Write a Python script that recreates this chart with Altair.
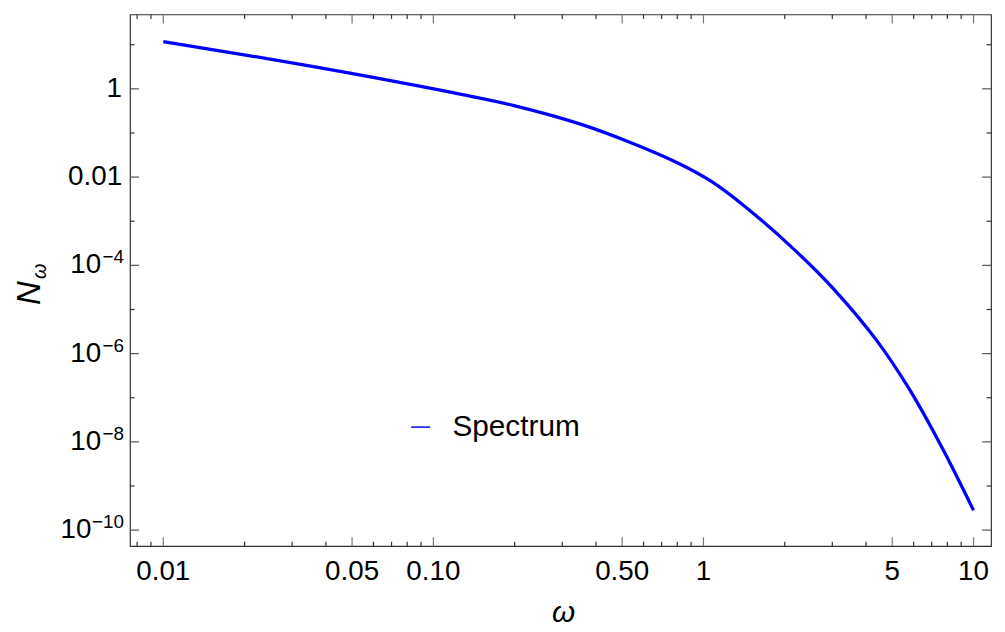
import altair as alt
import pandas as pd

# ---- data ----
omega = [0.01, 0.0343, 0.112, 0.197, 0.346, 0.528, 0.807, 1.07, 1.42,
         2.16, 3.03, 4.37, 5.80, 7.70, 10.0]
N_omega = [11.8, 3.36, 0.874, 0.424, 0.163, 0.0633, 0.0206, 0.00798, 0.00219,
           2.33e-4, 2.94e-5, 2.02e-6, 1.52e-7, 6.8e-9, 2.8e-10]
series_name = "Spectrum"

x_major = [0.01, 0.05, 0.1, 0.5, 1, 5, 10]
x_major_labels = ["0.01", "0.05", "0.10", "0.50", "1", "5", "10"]
x_minor = [0.008, 0.009, 0.02, 0.03, 0.04, 0.06, 0.07, 0.08, 0.09,
           0.2, 0.3, 0.4, 0.6, 0.7, 0.8, 0.9, 2, 3, 4, 6, 7, 8, 9]
y_major = [1e-10, 1e-8, 1e-6, 1e-4, 1e-2, 1]
y_plain_values = [1e-2, 1]
y_plain_labels = ["0.01", "1"]
y_pow_values_short = [1e-8, 1e-6, 1e-4]
y_pow_exps_short = ["\u22128", "\u22126", "\u22124"]
y_pow_values_long = [1e-10]
y_pow_exps_long = ["\u221210"]
y_minor = [1e-9, 1e-7, 1e-5, 1e-3, 1e-1, 10]

x_domain = [0.00753, 11.61]
y_domain = [4.33e-11, 48.5]

W, H = 868, 536
FONT = "Liberation Sans"
LBL = 28
EXP = 19
MAJ, MIN = 9, 4.5

xs = alt.Scale(type="log", domain=x_domain, nice=False, zero=False)
ys = alt.Scale(type="log", domain=y_domain, nice=False, zero=False)

def X(f):
    return alt.X(f + ":Q", scale=xs, axis=None)

def Y(f):
    return alt.Y(f + ":Q", scale=ys, axis=None)

df = pd.DataFrame({"w": omega, "n": N_omega, "s": [series_name] * len(omega)})

line = alt.Chart(df).mark_line(strokeWidth=3.3, interpolate="catmull-rom").encode(
    x=X("w"), y=Y("n"),
    color=alt.Color("s:N", scale=alt.Scale(range=["#0000ff"]),
                    legend=alt.Legend(orient="none", legendX=278, legendY=401,
                                      title=None, symbolType="stroke",
                                      symbolSize=361, symbolStrokeWidth=1.5,
                                      labelFont=FONT, labelFontSize=30,
                                      labelColor="black", labelOffset=17,
                                      padding=0)),
)

def rules(vals, side, length, color):
    m = alt.Chart(pd.DataFrame({"tv": vals})).mark_rule(color=color, strokeWidth=1.2)
    if side == "bottom":
        return m.encode(x=X("tv"), y=alt.value(H), y2=alt.value(H - length))
    if side == "top":
        return m.encode(x=X("tv"), y=alt.value(0), y2=alt.value(length))
    if side == "left":
        return m.encode(y=Y("tv"), x=alt.value(0), x2=alt.value(length))
    return m.encode(y=Y("tv"), x=alt.value(W), x2=alt.value(W - length))

MAJ_C, MIN_C = "#777777", "#333333"
tick_layers = [
    rules(x_major, "bottom", MAJ, MAJ_C),
    rules(x_minor, "bottom", MIN, MIN_C),
    rules(x_major, "top", MAJ, MAJ_C),
    rules(x_minor, "top", MIN, MIN_C),
    rules(y_major, "left", MAJ, "#555555"),
    rules(y_minor, "left", MIN, MIN_C),
    rules(y_major, "right", MAJ, "#555555"),
    rules(y_minor, "right", MIN, MIN_C),
]

def txt(**kw):
    base = dict(font=FONT, color="black", baseline="middle")
    base.update(kw)
    return base

x_labels = alt.Chart(pd.DataFrame({"v": x_major, "t": x_major_labels})).mark_text(
    **txt(fontSize=LBL, align="center")).encode(x=X("v"), y=alt.value(H + 26), text="t:N")

y_plain = alt.Chart(pd.DataFrame({"v": y_plain_values, "t": y_plain_labels})).mark_text(
    **txt(fontSize=LBL, align="right")).encode(y=Y("v"), x=alt.value(-8), text="t:N")

def pow_labels(vals, exps, base_x):
    d = pd.DataFrame({"v": vals, "e": exps, "b": ["10"] * len(vals)})
    b = alt.Chart(d).mark_text(**txt(fontSize=LBL, align="right")).encode(
        y=Y("v"), x=alt.value(base_x), text="b:N")
    e = alt.Chart(d).mark_text(**txt(fontSize=EXP, align="right", dy=-8)).encode(
        y=Y("v"), x=alt.value(-6), text="e:N")
    return [b, e]

pow_layers = pow_labels(y_pow_values_short, y_pow_exps_short, -29) + \
    pow_labels(y_pow_values_long, y_pow_exps_long, -39)

x_title = alt.Chart(pd.DataFrame({"t": ["\u03c9"]})).mark_text(
    **txt(fontSize=30, fontStyle="italic", align="center")).encode(
    text="t:N", x=alt.value(W / 2 + 3), y=alt.value(603))

ytitle_main = alt.Chart(pd.DataFrame({"t": ["N"]})).mark_text(
    **txt(fontSize=33, fontStyle="italic", angle=270, align="center")).encode(
    text="t:N", x=alt.value(-101), y=alt.value(281))
ytitle_sub = alt.Chart(pd.DataFrame({"t": ["\u03c9"]})).mark_text(
    **txt(fontSize=20, fontStyle="italic", angle=270, align="center")).encode(
    text="t:N", x=alt.value(-91), y=alt.value(259))

chart = alt.layer(line, *tick_layers, x_labels, y_plain, *pow_layers,
                  x_title, ytitle_main, ytitle_sub).properties(
    width=W, height=H,
    padding={"left": 123, "top": 4, "right": 6, "bottom": 80},
    autosize=alt.AutoSizeParams(type="none"),
).configure(background="white").configure_view(stroke="#333333", strokeWidth=1.2)

chart.save("out.html", embed_options={"renderer": "svg", "actions": False})
